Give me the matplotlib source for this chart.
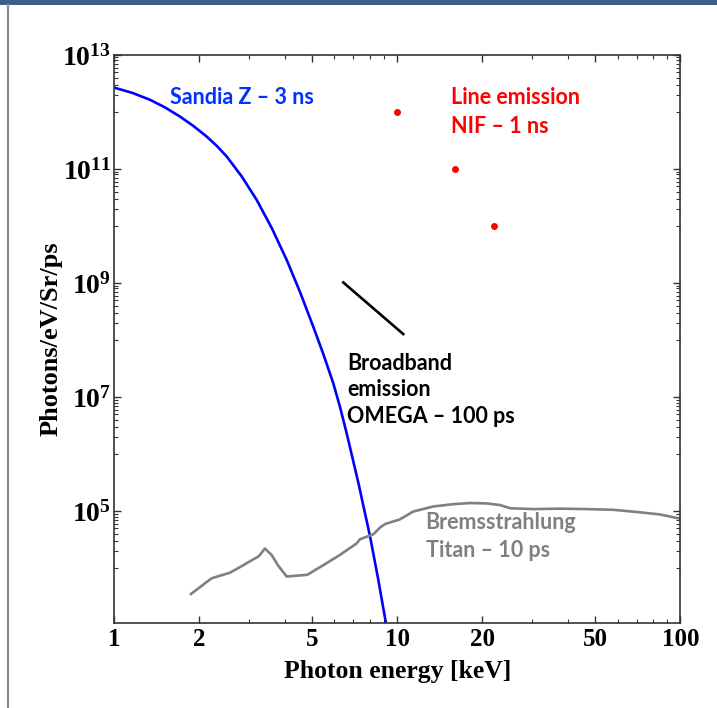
import matplotlib
matplotlib.use('Agg')
import matplotlib.pyplot as plt
from matplotlib.ticker import FixedLocator, FixedFormatter, NullFormatter
from matplotlib.patches import Rectangle
from matplotlib.lines import Line2D

# Sandia Z - 3 ns (blue curve), energy in keV
sandia_e = [1.00, 1.162, 1.340, 1.513, 1.710, 1.905, 2.125, 2.305, 2.500, 2.824,
            3.190, 3.605, 4.072, 4.536, 5.053, 5.482, 5.946, 6.281, 6.630, 7.287,
            8.013, 8.551, 9.150]
sandia_i = [2.67e12, 2.15e12, 1.63e12, 1.20e12, 8.28e11, 5.68e11, 3.69e11, 2.54e11,
            1.65e11, 7.39e10, 2.86e10, 9.2e9, 2.53e9, 6.95e8, 1.71e8, 5.68e7,
            1.74e7, 6.68e6, 2.31e6, 3.16e5, 3.64e4, 6.68e3, 1.0e3]

# Titan - 10 ps bremsstrahlung (gray line)
titan_e = [1.87, 2.21, 2.57, 2.86, 3.25, 3.41, 3.60, 3.80, 4.07, 4.81, 5.48,
           6.28, 7.19, 7.39, 8.23, 8.69, 9.05, 10.2, 11.4, 13.4, 15.8, 18.1,
           20.7, 23.1, 25.0, 30.2, 37.6, 46.7, 57.9, 71.9, 84.7, 99.0]
titan_i = [3.5e3, 6.6e3, 8.3e3, 1.12e4, 1.62e4, 2.2e4, 1.7e4, 1.1e4, 7.1e3,
           7.6e3, 1.12e4, 1.7e4, 2.7e4, 3.2e4, 3.9e4, 5.1e4, 5.9e4, 7.1e4,
           9.8e4, 1.2e5, 1.32e5, 1.38e5, 1.36e5, 1.27e5, 1.12e5, 1.08e5,
           1.10e5, 1.08e5, 1.05e5, 9.5e4, 8.7e4, 7.4e4]

# OMEGA - 100 ps broadband emission (black segment)
omega_e = [6.45, 10.5]
omega_i = [1.02e9, 1.27e8]

# NIF - 1 ns line emission (red dots)
nif_e = [10.0, 16.0, 22.0]
nif_i = [1e12, 1e11, 1e10]

x_ticks = [1, 2, 5, 10, 20, 50, 100]
x_minor = [3, 4, 6, 7, 8, 9, 30, 40, 60, 70, 80, 90]
y_exps = [5, 7, 9, 11, 13]

plt.rcParams['mathtext.fontset'] = 'custom'
plt.rcParams['mathtext.rm'] = 'Liberation Serif:bold'
plt.rcParams['mathtext.it'] = 'Liberation Serif:bold'
plt.rcParams['mathtext.bf'] = 'Liberation Serif:bold'

fig = plt.figure(figsize=(7.17, 7.08), dpi=100)
ax = fig.add_axes([0.159, 0.1205, 0.790, 0.802])

ax.plot(sandia_e, sandia_i, color='#0000ff', lw=1.9, solid_capstyle='butt')
ax.plot(titan_e, titan_i, color='#808080', lw=1.9)
ax.plot(omega_e, omega_i, color='black', lw=1.9)
ax.plot(nif_e, nif_i, 'o', color='#ff0000', ms=5, mec='none')

ax.set_xscale('log')
ax.set_yscale('log')
ax.set_xlim(1, 100)
ax.set_ylim(1.1e3, 1e13)

# ticks
ax.xaxis.set_major_locator(FixedLocator(x_ticks))
ax.xaxis.set_major_formatter(FixedFormatter([str(t) for t in x_ticks]))
ax.xaxis.set_minor_locator(FixedLocator(x_minor))
ax.xaxis.set_minor_formatter(NullFormatter())

ax.yaxis.set_major_locator(FixedLocator([10.0 ** e for e in y_exps]))
ax.yaxis.set_major_formatter(FixedFormatter([r'$10^{%d}$' % e for e in y_exps]))
ax.yaxis.set_minor_locator(FixedLocator([k * 10.0 ** (e - 1) for e in y_exps for k in range(1, 10)]))
ax.yaxis.set_minor_formatter(NullFormatter())

ax.tick_params(which='both', direction='in', top=True, right=True, color='#333333')
ax.tick_params(which='major', length=5, width=1)
ax.tick_params(which='minor', length=3, width=0.8)
ax.tick_params(axis='x', which='major', pad=4, labelsize=18)
ax.tick_params(axis='y', which='major', pad=2, labelsize=20)
for lab in ax.get_xticklabels():
    lab.set_fontfamily('Liberation Serif')
    lab.set_fontweight('bold')

for sp in ax.spines.values():
    sp.set_color('#333333')
    sp.set_linewidth(1.2)

ax.set_xlabel('Photon energy [keV]', fontfamily='Liberation Serif', fontweight='bold',
              fontsize=18.5, labelpad=6)
ax.set_ylabel('Photons/eV/Sr/ps', fontfamily='Liberation Serif', fontweight='bold',
              fontsize=19, labelpad=0)

# annotations
tfont = dict(fontfamily='Lato', fontweight='bold', fontsize=15.5, va='center', ha='left')
ax.text(1.576, 1.8e12, 'Sandia Z \u2013 3 ns', color='#0033ff', **tfont)
ax.text(15.5, 1.8e12, 'Line emission', color='#ff0000', **tfont)
ax.text(15.5, 5.5e11, 'NIF \u2013 1 ns', color='#ff0000', **tfont)
ax.text(6.65, 3.9e7, 'Broadband', color='black', **tfont)
ax.text(6.65, 1.38e7, 'emission', color='black', **tfont)
ax.text(6.65, 4.5e6, 'OMEGA \u2013 100 ps', color='black', **tfont)
ax.text(12.6, 6.4e4, 'Bremsstrahlung', color='#808080', **tfont)
ax.text(12.6, 2.07e4, 'Titan \u2013 10 ps', color='#808080', **tfont)

# slide frame: top bar and left rule
fig.add_artist(Rectangle((0, 1 - 5 / 708), 1, 5 / 708, transform=fig.transFigure,
                         color='#3b6087', lw=0))
fig.add_artist(Line2D([8 / 717, 8 / 717], [0, 1 - 5 / 708], transform=fig.transFigure,
                      color='#8a8a8a', lw=1.6))

fig.savefig('out.png', dpi=100)
